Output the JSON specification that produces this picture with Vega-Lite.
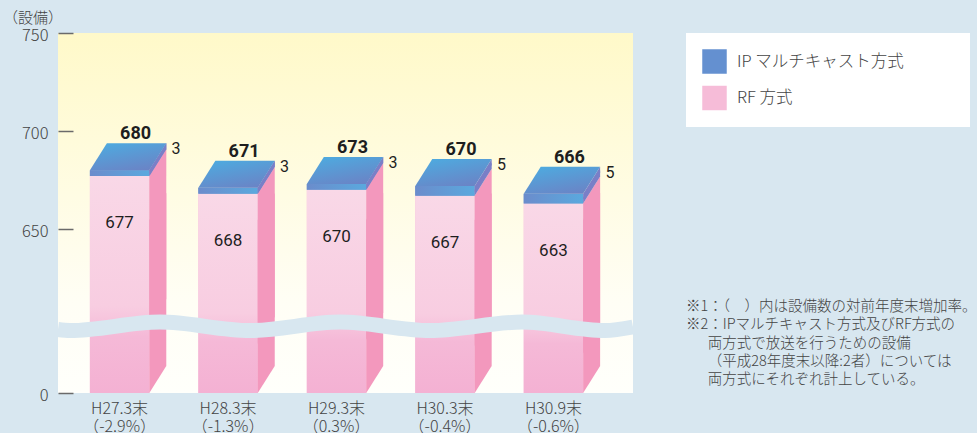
{
  "$schema": "https://vega.github.io/schema/vega-lite/v6.json",
  "width": 575,
  "height": 360,
  "autosize": {"type": "none"},
  "padding": {"left": 58, "top": 33, "right": 344, "bottom": 40},
  "background": "#d8e7f0",
  "view": {"stroke": null, "fill": {"gradient": "linear", "x1": 0, "y1": 0, "x2": 0, "y2": 1, "stops": [{"offset": 0, "color": "#fff9c9"}, {"offset": 0.75, "color": "#fffef5"}, {"offset": 1, "color": "#fffffb"}]}},
  "config": {"font": "Noto Sans CJK JP"},
  "datasets": {
    "bars": [
      {"cat": "H27.3末|（-2.9%）", "type": "RF 方式", "value": 677, "total": 680},
      {"cat": "H27.3末|（-2.9%）", "type": "IP マルチキャスト方式", "value": 3, "total": 680},
      {"cat": "H28.3末|（-1.3%）", "type": "RF 方式", "value": 668, "total": 671},
      {"cat": "H28.3末|（-1.3%）", "type": "IP マルチキャスト方式", "value": 3, "total": 671},
      {"cat": "H29.3末|（0.3%）", "type": "RF 方式", "value": 670, "total": 673},
      {"cat": "H29.3末|（0.3%）", "type": "IP マルチキャスト方式", "value": 3, "total": 673},
      {"cat": "H30.3末|（-0.4%）", "type": "RF 方式", "value": 667, "total": 670},
      {"cat": "H30.3末|（-0.4%）", "type": "IP マルチキャスト方式", "value": 5, "total": 670},
      {"cat": "H30.9末|（-0.6%）", "type": "RF 方式", "value": 663, "total": 666},
      {"cat": "H30.9末|（-0.6%）", "type": "IP マルチキャスト方式", "value": 5, "total": 666}
    ],
    "wave": [
      {"px": 0, "wy": 598.7},
      {"px": 12, "wy": 598.2},
      {"px": 102, "wy": 602.5},
      {"px": 192, "wy": 598.2},
      {"px": 282, "wy": 602.5},
      {"px": 372, "wy": 598.2},
      {"px": 464, "wy": 602.5},
      {"px": 547, "wy": 598.2},
      {"px": 575, "wy": 600.0}
    ]
  },
  "layer": [
    {
      "data": {"name": "bars"},
      "transform": [{"stack": "value", "groupby": ["cat"], "sort": [{"field": "type", "order": "descending"}], "as": ["v0", "v1"]}],
      "encoding": {
        "x": {
          "field": "cat", "type": "nominal", "sort": null,
          "scale": {"paddingInner": 0.4525, "paddingOuter": 0.377, "align": 0.39},
          "axis": {
            "title": ["※1：（　）内は設備数の対前年度末増加率。", "※2：IPマルチキャスト方式及びRF方式の", "\u200b\u3000\u2002両方式で放送を行うための設備", "\u200b\u3000\u2002（平成28年度末以降:2者）については", "\u200b\u3000\u2002両方式にそれぞれ計上している。"],
            "titleX": 627.5, "titleY": -82.5, "titleAlign": "left", "titleBaseline": "alphabetic",
            "titleFontSize": 14.5, "titleFontWeight": 300, "titleColor": "#444", "titleLineHeight": 18.3,
            "labelExpr": "split(datum.label, '|')", "labelFontSize": 16, "labelFontWeight": 300, "labelColor": "#444",
            "labelLineHeight": 18.5, "labelPadding": 7, "ticks": false, "domain": false, "labelAngle": 0
          }
        }
      },
      "layer": [
        {
          "mark": {"type": "bar"},
          "encoding": {
            "y": {
              "field": "v1", "type": "quantitative",
              "scale": {"domain": [0, 580, 750], "range": [360, 333.2, 0], "nice": false, "zero": false},
              "axis": {
                "values": [0, 650, 700, 750], "title": "（設備）", "titleAngle": 0, "titleX": -55.5, "titleY": -11,
                "titleAlign": "left", "titleBaseline": "alphabetic", "titleFontSize": 15, "titleFontWeight": 300, "titleColor": "#444",
                "domain": false, "grid": false, "tickSize": -15, "tickColor": "#6a6a6a", "tickWidth": 1.5,
                "labelFontSize": 16.5, "labelFontWeight": 300, "labelColor": "#444", "labelPadding": 25, "labelFlush": false, "labelBaseline": "middle",
                "labelOffset": 2.5
              }
            },
            "y2": {"field": "v0"},
            "color": {
              "field": "type", "type": "nominal",
              "scale": {"domain": ["IP マルチキャスト方式", "RF 方式"], "range": ["#6490d0", "#f6bcd8"]},
              "legend": {
                "title": null, "orient": "none", "legendX": 628, "legendY": 0, "fillColor": "#ffffff", "padding": 16,
                "symbolType": "square", "symbolSize": 600, "symbolStrokeWidth": 0, "labelFontSize": 16.5, "labelFontWeight": 300, "labelColor": "#444",
                "labelOffset": 10, "rowPadding": 11.5, "labelLimit": 400, "labelExpr": "datum.label + '\u3000\u3000\u3000\u200b'"
              }
            }
          }
        },
        {
          "transform": [{"filter": "datum.type === 'RF 方式'"}],
          "mark": {"type": "bar", "fill": {"gradient": "linear", "x1": 0, "y1": 0, "x2": 0, "y2": 1, "stops": [{"offset": 0, "color": "#f9d8e7"}, {"offset": 0.6, "color": "#f8cde1"}, {"offset": 0.74, "color": "#f5b9d7"}, {"offset": 1, "color": "#f4b1d3"}]}},
          "encoding": {
            "y": {"field": "v1", "type": "quantitative", "scale": {"domain": [0, 580, 750], "range": [360, 333.2, 0], "nice": false, "zero": false}, "axis": null},
            "y2": {"field": "v0"}
          }
        },
        {
          "transform": [{"filter": "datum.type !== 'RF 方式'"}],
          "mark": {"type": "bar", "fill": {"gradient": "linear", "x1": 0, "y1": 0, "x2": 1, "y2": 0, "stops": [{"offset": 0, "color": "#6b8ccc"}, {"offset": 1, "color": "#5aa9de"}]}},
          "encoding": {
            "y": {"field": "v1", "type": "quantitative", "scale": {"domain": [0, 580, 750], "range": [360, 333.2, 0], "nice": false, "zero": false}, "axis": null},
            "y2": {"field": "v0"}
          }
        },
        {
          "transform": [{"filter": "datum.type === 'RF 方式'"}],
          "mark": {"type": "point", "shape": "M29.7,0L46.7,-27L46.7,123L29.7,150Z", "size": 4, "filled": true, "opacity": 1, "fill": "#f398bd", "strokeWidth": 0},
          "encoding": {"y": {"field": "v1", "type": "quantitative", "scale": {"domain": [0, 580, 750], "range": [360, 333.2, 0], "nice": false, "zero": false}, "axis": null}}
        },
        {
          "transform": [{"filter": "datum.type === 'RF 方式'"}],
          "mark": {"type": "point", "shape": "M29.7,0L29.7,-173L46.7,-200L46.7,-27Z", "size": 4, "filled": true, "opacity": 1, "fill": "#f398bd", "strokeWidth": 0},
          "encoding": {"y": {"field": "v0", "type": "quantitative", "scale": {"domain": [0, 580, 750], "range": [360, 333.2, 0], "nice": false, "zero": false}, "axis": null}}
        },
        {
          "transform": [{"filter": "datum.type !== 'RF 方式'"}],
          "mark": {"type": "point", "shape": "M29.7,0L46.7,-27L46.7,-21L29.7,6Z", "size": 4, "filled": true, "opacity": 1, "fill": "#7a7fc7", "strokeWidth": 0},
          "encoding": {"y": {"field": "v1", "type": "quantitative", "scale": {"domain": [0, 580, 750], "range": [360, 333.2, 0], "nice": false, "zero": false}, "axis": null}}
        },
        {
          "transform": [{"filter": "datum.type !== 'RF 方式'"}],
          "mark": {"type": "point", "shape": "M29.7,0L29.7,-6L46.7,-33L46.7,-27Z", "size": 4, "filled": true, "opacity": 1, "fill": "#7a7fc7", "strokeWidth": 0},
          "encoding": {"y": {"field": "v0", "type": "quantitative", "scale": {"domain": [0, 580, 750], "range": [360, 333.2, 0], "nice": false, "zero": false}, "axis": null}}
        },
        {
          "transform": [{"filter": "datum.type !== 'RF 方式'"}],
          "mark": {"type": "point", "shape": "M-29.7,0L29.7,0L46.7,-27L-12.7,-27Z", "size": 4, "filled": true, "opacity": 1, "strokeWidth": 0,
            "fill": {"gradient": "linear", "x1": 0.2, "y1": 0, "x2": 0.7, "y2": 1, "stops": [{"offset": 0, "color": "#4eaadf"}, {"offset": 1, "color": "#6a84c6"}]}},
          "encoding": {"y": {"field": "v1", "type": "quantitative", "scale": {"domain": [0, 580, 750], "range": [360, 333.2, 0], "nice": false, "zero": false}, "axis": null}}
        },
        {
          "transform": [{"filter": "datum.type !== 'RF 方式'"}],
          "mark": {"type": "text", "font": "Roboto", "fontSize": 18, "fontWeight": "bold", "color": "#1e1e1e", "align": "center", "baseline": "alphabetic", "dx": 16, "dy": -31},
          "encoding": {
            "y": {"field": "v1", "type": "quantitative", "scale": {"domain": [0, 580, 750], "range": [360, 333.2, 0], "nice": false, "zero": false}, "axis": null},
            "text": {"field": "total", "type": "quantitative"}
          }
        },
        {
          "transform": [{"filter": "datum.type !== 'RF 方式'"}],
          "mark": {"type": "text", "font": "Roboto", "fontSize": 16, "color": "#1e1e1e", "align": "left", "baseline": "alphabetic", "dx": 52, "dy": -16},
          "encoding": {
            "y": {"field": "v1", "type": "quantitative", "scale": {"domain": [0, 580, 750], "range": [360, 333.2, 0], "nice": false, "zero": false}, "axis": null},
            "text": {"field": "value", "type": "quantitative"}
          }
        },
        {
          "transform": [{"filter": "datum.type === 'RF 方式'"}],
          "mark": {"type": "text", "font": "Roboto", "fontSize": 17, "color": "#1e1e1e", "align": "center", "baseline": "alphabetic", "dy": 52},
          "encoding": {
            "y": {"field": "v1", "type": "quantitative", "scale": {"domain": [0, 580, 750], "range": [360, 333.2, 0], "nice": false, "zero": false}, "axis": null},
            "text": {"field": "value", "type": "quantitative"}
          }
        }
      ],
      "resolve": {"axis": {"y": "independent"}}
    },
    {
      "data": {"name": "wave"},
      "mark": {"type": "line", "interpolate": "monotone", "stroke": "#d8e7f0", "strokeWidth": 15, "strokeCap": "butt"},
      "encoding": {
        "x": {"field": "px", "type": "quantitative", "scale": {"domain": [0, 575], "nice": false, "zero": false}, "axis": null},
        "y": {"field": "wy", "type": "quantitative", "scale": {"domain": [0, 580, 750], "range": [360, 333.2, 0], "nice": false, "zero": false}, "axis": null}
      }
    }
  ],
  "resolve": {"scale": {"x": "independent"}, "axis": {"y": "independent"}}
}
